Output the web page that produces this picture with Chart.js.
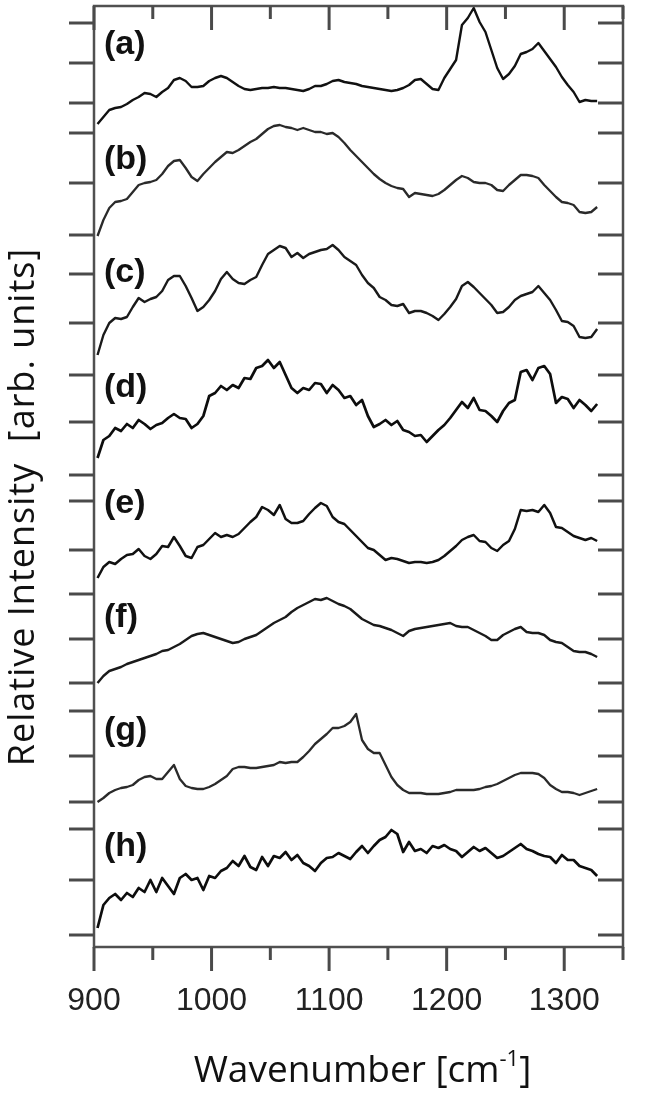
<!DOCTYPE html>
<html><head><meta charset="utf-8">
<style>html,body{margin:0;padding:0;background:#fff;}#wrap{width:658px;height:1095px;}</style>
<script src="https://cdn.jsdelivr.net/npm/chart.js@4.4.1/dist/chart.umd.min.js"></script>
</head><body><div id="wrap"><canvas id="c" width="658" height="1095"></canvas></div>
<script>
const wavenumbers=[903,908,913,918,923,928,933,938,943,948,953,958,963,968,973,978,983,988,993,998,1003,1008,1013,1018,1023,1028,1033,1038,1043,1048,1053,1058,1063,1068,1073,1078,1083,1088,1093,1098,1103,1108,1113,1118,1123,1128,1133,1138,1143,1148,1153,1158,1163,1168,1173,1178,1183,1188,1193,1198,1203,1208,1213,1218,1223,1228,1233,1238,1243,1248,1253,1258,1263,1268,1273,1278,1283,1288,1293,1298,1303,1308,1313,1318,1323,1328];
const specA=[824,831,838,840,841,844,848,851,855,854,851,856,860,868,870,867,861,861,862,867,870,872,870,866,862,859,858,859,860,860,861,860,860,859,858,857,859,862,862,864,867,868,866,865,864,862,861,860,859,858,857,858,860,863,868,869,864,859,858,870,879,888,923,930,940,926,916,898,880,869,874,882,894,896,899,905,897,889,881,871,863,856,846,848,847,847];
const specB=[712,728,740,746,747,749,756,763,765,766,768,774,782,787,788,780,771,767,774,780,786,791,796,795,798,802,806,809,814,819,822,823,821,820,818,820,818,816,816,814,815,811,805,798,792,786,780,774,769,765,762,760,759,751,755,754,753,752,754,758,763,768,772,770,766,765,765,763,758,757,763,768,773,773,772,770,763,757,751,746,745,743,736,735,736,741];
const specC=[593,613,625,630,629,631,641,650,646,649,651,657,668,672,672,662,650,637,641,648,657,669,676,669,665,664,668,671,683,694,698,702,700,691,695,690,694,696,698,699,703,698,691,687,683,673,665,660,651,648,643,642,644,635,637,637,635,632,628,634,641,649,662,666,661,655,649,643,635,636,641,648,652,654,656,662,655,648,638,627,626,622,611,610,611,619];
const specD=[490,508,512,520,517,524,520,528,524,519,523,525,530,534,530,529,520,524,532,552,555,562,558,563,560,570,569,580,582,588,580,586,573,560,555,560,558,565,564,555,563,558,550,552,543,548,532,521,524,528,523,527,518,516,512,513,506,512,518,523,530,538,546,540,550,538,537,532,526,537,545,548,576,578,568,580,582,574,545,551,549,540,548,543,537,544];
const specE=[370,381,386,384,389,393,394,399,392,389,394,402,401,411,402,392,390,401,403,409,415,411,413,411,414,420,426,431,441,438,433,443,429,425,425,427,434,440,445,442,431,426,424,418,412,406,400,398,393,388,390,389,387,385,386,386,385,386,388,392,397,402,408,411,413,407,406,400,397,403,407,419,438,437,438,436,443,435,421,420,416,412,410,408,410,407];
const specF=[265,272,277,279,281,284,286,288,290,292,294,297,298,301,304,308,312,314,315,313,311,309,307,305,306,309,311,313,317,321,325,328,331,336,340,343,346,349,348,350,347,344,342,339,334,329,326,323,322,320,318,315,312,317,319,320,321,322,323,324,325,322,321,321,318,315,312,308,308,313,316,319,321,316,315,315,313,308,306,305,301,297,296,296,294,291];
const specG=[146,150,155,158,160,161,163,168,171,172,169,169,176,183,169,162,160,159,159,161,164,168,172,179,181,181,180,180,181,182,183,186,185,186,186,191,197,204,209,214,220,220,222,226,234,208,199,195,195,183,171,163,158,155,155,155,154,154,154,155,156,158,158,158,158,159,161,162,164,167,170,173,175,175,175,174,170,163,159,156,156,155,153,155,157,159];
const specH=[20,43,50,54,48,55,51,60,56,68,56,70,62,54,70,74,68,70,58,72,70,77,80,87,82,92,81,78,91,82,92,90,96,88,93,85,82,77,85,90,91,95,92,89,96,102,95,102,108,111,118,114,96,106,97,99,95,102,100,103,99,97,91,96,101,97,100,95,90,92,96,100,104,99,97,94,92,91,85,93,88,88,82,80,78,72];
const panelNames=['(a)','(b)','(c)','(d)','(e)','(f)','(g)','(h)'];
const yTickValues=[925,885,845,815,765,713,674,625,573,526,473,447,398,354,309,265,237,192,146,119,68,13];
const xMajorTicks=[900,1000,1100,1200,1300];
const xTitleMain='Wavenumber [cm', xTitleSup='-1', xTitleEnd=']';
const yTitle='Relative Intensity  [arb. units]';

const spectra=[specA,specB,specC,specD,specE,specF,specG,specH];
const lineColors=['#111','#2a2a2a','#1a1a1a','#0d0d0d','#111','#1a1a1a','#2a2a2a','#0d0d0d'];
const lineWidths=[2.4,2.3,2.4,2.7,2.5,2.4,2.3,2.7];
const panelLabelAt=[903,788,675,560,444,330,217,101];

const framePlugin={
  id:'frame',
  afterDraw(chart){
    const {ctx,chartArea:a,scales:{x,y}}=chart;
    const seg=(x1,y1,x2,y2)=>{ctx.beginPath();ctx.moveTo(x1,y1);ctx.lineTo(x2,y2);ctx.stroke();};
    ctx.save();
    ctx.strokeStyle='#505050';ctx.lineWidth=2.5;
    ctx.strokeRect(a.left,a.top,a.right-a.left,a.bottom-a.top);
    ctx.strokeStyle='#4a4a4a';ctx.lineWidth=3;
    x.ticks.forEach(t=>{
      const px=x.getPixelForValue(t.value);
      const len=xMajorTicks.includes(t.value)?24:13;
      seg(px,a.bottom,px,a.bottom+len);
      seg(px,a.top,px,a.top+len);
    });
    y.ticks.forEach(t=>{
      const py=y.getPixelForValue(t.value);
      seg(a.left-25,py,a.left,py);
      seg(a.right-25,py,a.right,py);
    });
    ctx.fillStyle='#111';
    ctx.font='bold 34px "Liberation Sans", Arial, sans-serif';
    ctx.textAlign='left';ctx.textBaseline='middle';
    panelNames.forEach((n,i)=>ctx.fillText(n,a.left+10,y.getPixelForValue(panelLabelAt[i])));
    ctx.save();
    ctx.translate(24,507);ctx.rotate(-Math.PI/2);
    ctx.font='36px "Open Sans", sans-serif';
    if('letterSpacing' in ctx) ctx.letterSpacing='1px';
    ctx.textAlign='center';ctx.textBaseline='middle';
    ctx.fillText(yTitle,0,0);
    ctx.restore();
    if('letterSpacing' in ctx) ctx.letterSpacing='0px';
    const big='37px "Open Sans", sans-serif', small='22px "Open Sans", sans-serif';
    ctx.font=big;const w1=ctx.measureText(xTitleMain).width;const w3=ctx.measureText(xTitleEnd).width;
    ctx.font=small;const w2=ctx.measureText(xTitleSup).width;
    const cx=(a.left+a.right)/2+4, base=1082;
    let sx=cx-(w1+w2+w3)/2;
    ctx.textAlign='left';ctx.textBaseline='alphabetic';
    ctx.font=big;ctx.fillText(xTitleMain,sx,base);
    ctx.font=small;ctx.fillText(xTitleSup,sx+w1,base-16);
    ctx.font=big;ctx.fillText(xTitleEnd,sx+w1+w2,base);
    ctx.restore();
  }
};

new Chart(document.getElementById('c'),{
  type:'line',
  data:{datasets:spectra.map((s,i)=>({label:panelNames[i],data:s.map((v,j)=>({x:wavenumbers[j],y:v})),borderColor:lineColors[i],borderWidth:lineWidths[i],pointRadius:0,fill:false,tension:0,borderJoinStyle:'round'}))},
  options:{
    responsive:false,animation:false,devicePixelRatio:1,
    layout:{padding:{top:6,right:6,left:0,bottom:0}},
    plugins:{legend:{display:false},tooltip:{enabled:false}},
    scales:{
      x:{type:'linear',min:900,max:1350,position:'bottom',
        grid:{display:false,drawTicks:false,tickLength:0},border:{display:false},
        ticks:{stepSize:50,autoSkip:false,maxRotation:0,padding:35,color:'#222',
          font:{family:'"Liberation Sans", Arial, sans-serif',size:32},
          callback:v=>xMajorTicks.includes(v)?String(v):''},
        afterFit(s){s.height=148;}},
      y:{type:'linear',min:1,max:942,
        grid:{display:false,drawTicks:false},border:{display:false},
        ticks:{display:false},
        afterBuildTicks(s){s.ticks=yTickValues.map(v=>({value:v}));},
        afterFit(s){s.width=94;}}
    }
  },
  plugins:[framePlugin]
});
</script></body></html>
